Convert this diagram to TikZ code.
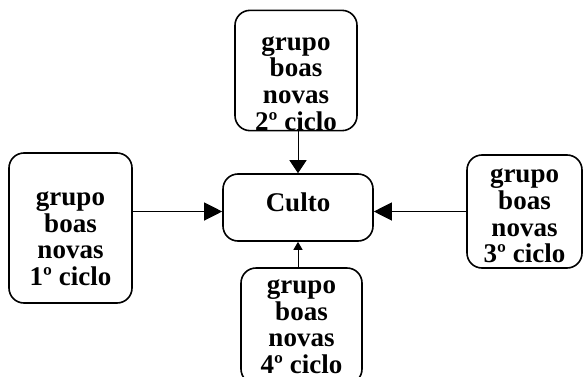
\documentclass[tikz,border=0pt]{standalone}
\usepackage{fontspec}
\setmainfont{Liberation Serif}
\usepackage{tikz}
\usetikzlibrary{arrows.meta,positioning}

\begin{document}
\begin{tikzpicture}[x=1pt,y=1pt,
                    caixa/.style={draw, line width=1.6pt, rounded corners=15pt, align=center,
                                  inner sep=0pt, font=\bfseries\fontsize{27}{26.7}\selectfont},
                    seta/.style={line width=1.2pt, -{Triangle[length=18pt,width=18pt]}},
                    setav/.style={line width=1pt, -{Triangle[length=13pt,width=17pt]}},
                    setap/.style={line width=1pt, -{Triangle[length=8pt,width=9pt]}},
                   ]

\useasboundingbox (0,0) rectangle (583,376);

\node[caixa, minimum width=150pt, minimum height=67pt, text depth=9.9pt] (culto) at (298,168.5) {Culto};

\node[caixa, minimum width=123pt, minimum height=150pt, text height=115.4pt] (ciclo1) at (70.5,148) {grupo\\boas\\novas\\1º ciclo};
\node[caixa, minimum width=122pt, minimum height=119pt, text height=120pt] (ciclo2) at (296,305.5) {grupo\\boas\\novas\\2º ciclo};
\node[caixa, minimum width=115pt, minimum height=113pt, text height=103pt] (ciclo3) at (524.5,164.5) {grupo\\boas\\novas\\3º ciclo};
\node[caixa, minimum width=121pt, minimum height=116pt, text height=95.2pt] (ciclo4) at (301.5,50) {grupo\\boas\\novas\\4º ciclo};

\draw[seta] (ciclo1.east |- ciclo3.west) -- (culto.west |- ciclo3.west);
\draw[seta] (ciclo3.west) -- (culto.east |- ciclo3.west);
\draw[setav] (ciclo2.south -| culto) -- (culto.north);
\draw[setap] (ciclo4.north -| culto) -- (culto.south);

\end{tikzpicture}
\end{document}
